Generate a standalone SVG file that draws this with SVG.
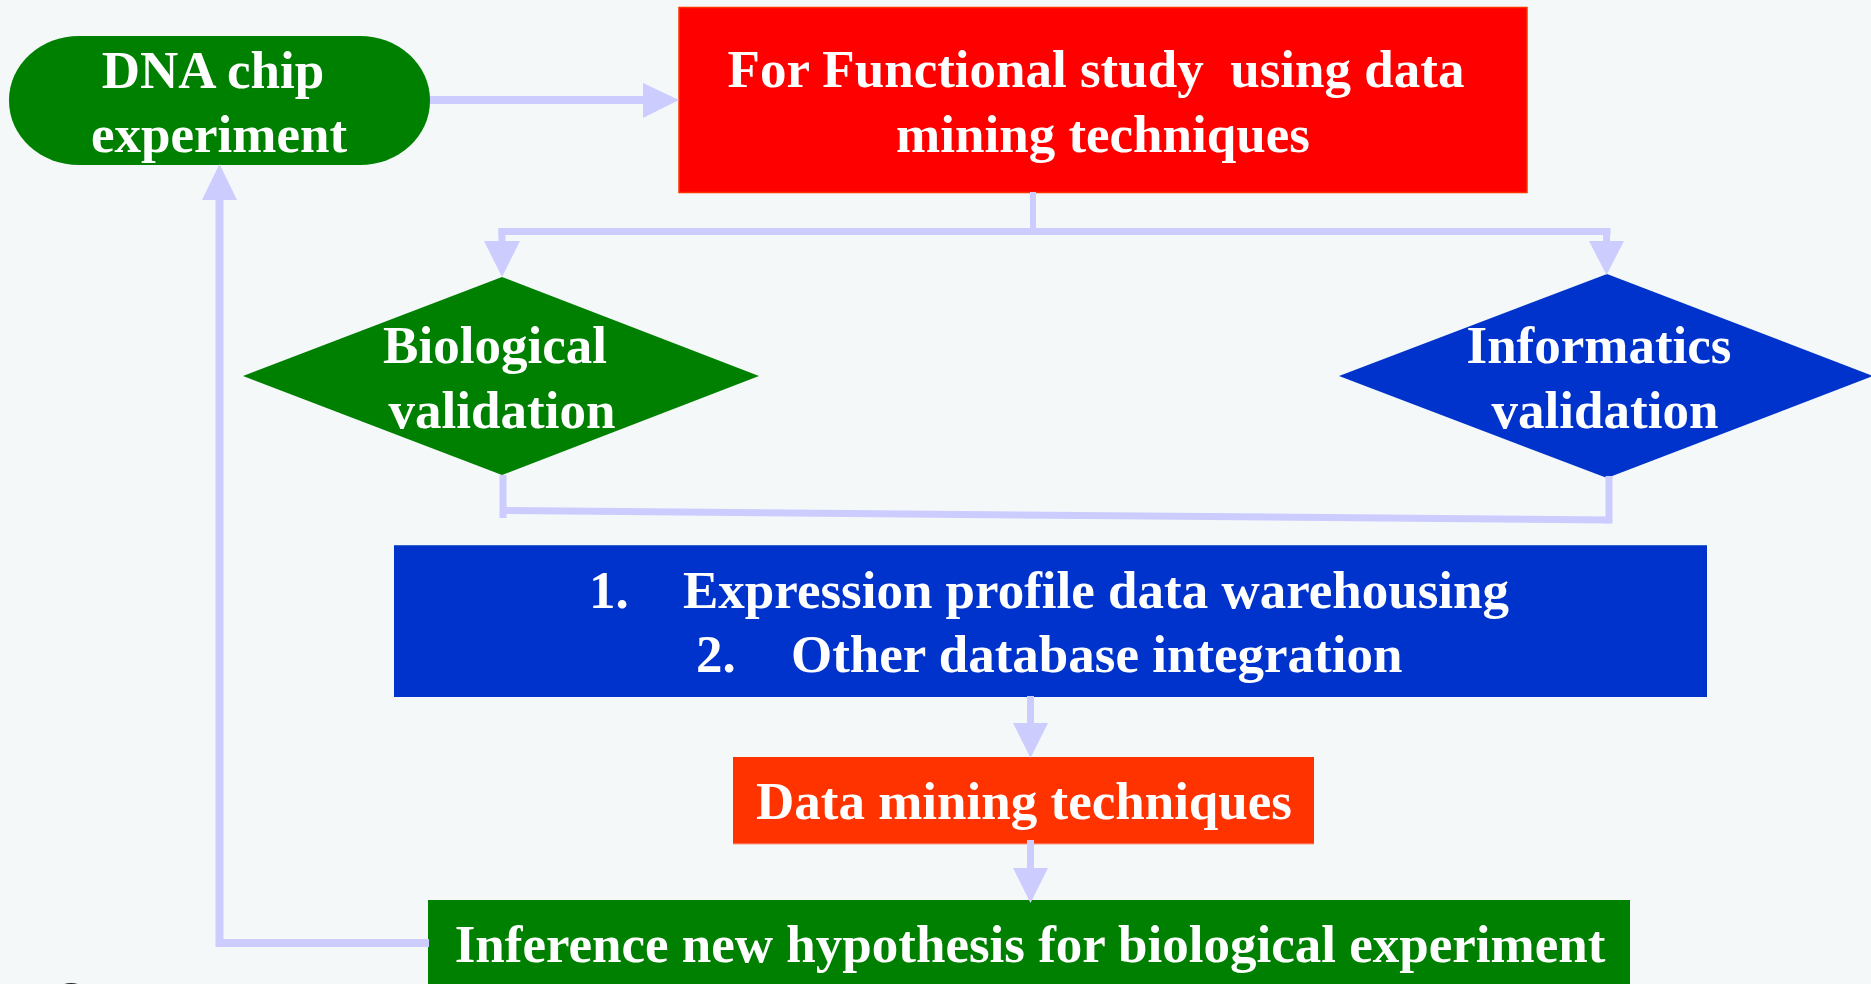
<svg xmlns="http://www.w3.org/2000/svg" width="1871" height="984" viewBox="0 0 1871 984">
  <style>
    .lbl { font-family: "Liberation Serif", "Times New Roman", serif; font-weight: bold; font-size: 53px; fill: #FFFFFF; }
    .mid { text-anchor: middle; }
    .wire { fill: none; stroke: #CCCCFF; stroke-width: 7; }
    .head { fill: #CCCCFF; }
  </style>
  <rect x="0" y="0" width="1871" height="984" fill="#F4F8F9"/>

  <!-- start: chip experiment -->
  <g id="dna-chip">
    <rect x="9" y="36" width="421" height="129" rx="70" ry="64" fill="#008000"/>
    <text class="lbl mid" x="213" y="88">DNA chip</text>
    <text class="lbl mid" x="219" y="152">experiment</text>
  </g>

  <!-- functional study box -->
  <g id="functional-study">
    <rect x="679" y="7.5" width="848" height="185" fill="#FF0000" stroke="#FF3300" stroke-width="1.5"/>
    <text class="lbl mid" x="1096" y="87" xml:space="preserve">For Functional study  using data</text>
    <text class="lbl mid" x="1103" y="152">mining techniques</text>
  </g>

  <!-- decision: biological validation -->
  <g id="biological-validation">
    <polygon points="502,277 759,376 502,475 243,376" fill="#008000"/>
    <text class="lbl mid" x="495" y="363">Biological</text>
    <text class="lbl mid" x="502" y="428">validation</text>
  </g>

  <!-- decision: informatics validation -->
  <g id="informatics-validation">
    <polygon points="1607,274 1873,376 1607,478 1339,376" fill="#0033CC"/>
    <text class="lbl mid" x="1599" y="363">Informatics</text>
    <text class="lbl mid" x="1605" y="428">validation</text>
  </g>

  <!-- warehousing / integration box -->
  <g id="data-integration">
    <rect x="394" y="545" width="1313" height="152" fill="#0033CC"/>
    <line x1="394" y1="545.5" x2="1707" y2="545.5" stroke="#3366CC" stroke-width="1"/>
    <text class="lbl" x="589" y="608">1.</text>
    <text class="lbl" x="683" y="608">Expression profile data warehousing</text>
    <text class="lbl" x="696" y="672">2.</text>
    <text class="lbl" x="791" y="672">Other database integration</text>
  </g>

  <!-- data mining box -->
  <g id="data-mining">
    <rect x="733" y="757" width="581" height="87" fill="#FF3300"/>
    <line x1="733" y1="844" x2="1314" y2="844" stroke="#F4A090" stroke-width="1"/>
    <text class="lbl mid" x="1024" y="819">Data mining techniques</text>
  </g>

  <!-- hypothesis box -->
  <g id="new-hypothesis">
    <rect x="428" y="900" width="1202" height="100" fill="#008000"/>
    <text class="lbl mid" x="1030" y="962">Inference new hypothesis for biological experiment</text>
  </g>

  <!-- small dark mark at the lower edge -->
  <g id="edge-mark">
    <ellipse cx="71" cy="993" rx="15" ry="10" fill="#222222"/>
  </g>

  <g id="connectors">
    <!-- chip experiment to functional study -->
    <line class="wire" x1="430" y1="100" x2="644" y2="100" style="stroke-width:8"/>
    <polygon class="head" points="643,83 679,100 643,118"/>

    <!-- split to both validations -->
    <line class="wire" x1="1033" y1="192" x2="1033" y2="232" style="stroke-width:6"/>
    <line class="wire" x1="498.5" y1="231.5" x2="1610.5" y2="231.5"/>
    <line class="wire" x1="502" y1="228" x2="502" y2="242"/>
    <polygon class="head" points="484,241 520,241 502,277"/>
    <line class="wire" x1="1606.5" y1="228" x2="1606.5" y2="242"/>
    <polygon class="head" points="1589,241 1624,241 1606.5,275"/>

    <!-- validations joined below -->
    <line class="wire" x1="503" y1="475" x2="503" y2="518"/>
    <line class="wire" x1="503" y1="510.5" x2="1609" y2="520"/>
    <line class="wire" x1="1609" y1="476" x2="1609" y2="523.5"/>

    <!-- integration to data mining -->
    <line class="wire" x1="1030.5" y1="696" x2="1030.5" y2="724"/>
    <polygon class="head" points="1013,723 1048,723 1030.5,758"/>

    <!-- data mining to hypothesis -->
    <line class="wire" x1="1030.5" y1="840" x2="1030.5" y2="869"/>
    <polygon class="head" points="1013,868 1048,868 1030.5,903"/>

    <!-- feedback loop to chip experiment -->
    <polyline class="wire" points="429,943 219.5,943 219.5,199" style="stroke-width:8"/>
    <polygon class="head" points="202,200 237,200 219.5,164"/>
  </g>
</svg>
